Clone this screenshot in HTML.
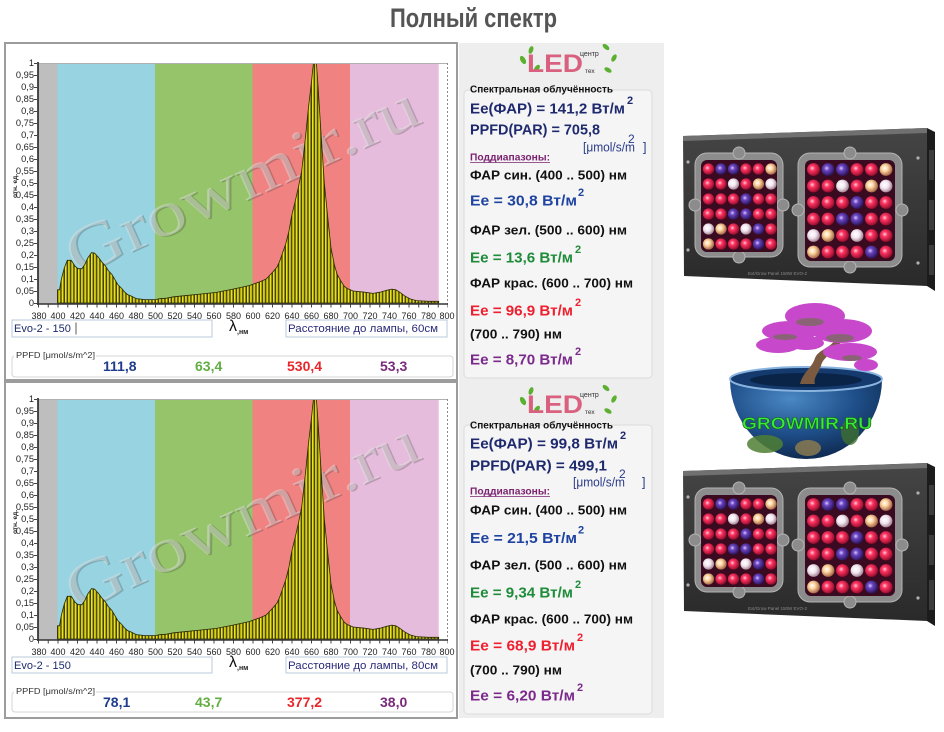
<!DOCTYPE html>
<html><head><meta charset="utf-8"><style>
html,body{margin:0;padding:0;background:#fff;}
svg{display:block;}
text{font-family:"Liberation Sans",Arial,sans-serif;}
text.wm{font-family:"Liberation Serif","Times New Roman",serif;}
</style></head><body>
<svg width="944" height="732" viewBox="0 0 944 732" xmlns="http://www.w3.org/2000/svg">
<defs>
 <pattern id="barpat" patternUnits="userSpaceOnUse" x="57.5" y="0" width="3.25" height="10">
  <rect width="3.25" height="10" fill="#8a8410"/>
  <rect x="0.8" width="1.5" height="10" fill="#ece41a"/>
  <rect width="0.7" height="10" fill="#151500"/>
 </pattern>
 <radialGradient id="gR" cx="40%" cy="40%" r="60%"><stop offset="0" stop-color="#ffd0dc"/><stop offset="0.35" stop-color="#ff3462"/><stop offset="1" stop-color="#9a0e2e"/></radialGradient>
 <radialGradient id="gP" cx="40%" cy="40%" r="60%"><stop offset="0" stop-color="#d8c8ff"/><stop offset="0.35" stop-color="#6a44c0"/><stop offset="1" stop-color="#2c1660"/></radialGradient>
 <radialGradient id="gW" cx="40%" cy="40%" r="60%"><stop offset="0" stop-color="#ffffff"/><stop offset="0.5" stop-color="#f2e6f0"/><stop offset="1" stop-color="#a88898"/></radialGradient>
 <radialGradient id="gY" cx="40%" cy="40%" r="60%"><stop offset="0" stop-color="#ffffff"/><stop offset="0.4" stop-color="#ffd6a0"/><stop offset="1" stop-color="#a86848"/></radialGradient>
 <linearGradient id="face" x1="0" y1="0" x2="0" y2="1"><stop offset="0" stop-color="#454545"/><stop offset="1" stop-color="#2a2a2a"/></linearGradient>
 <radialGradient id="earth" cx="40%" cy="25%" r="85%"><stop offset="0" stop-color="#4a88c4"/><stop offset="0.5" stop-color="#1f4f8a"/><stop offset="1" stop-color="#0a2040"/></radialGradient>

 <g id="bands">
  <rect x="38" y="63" width="19.5" height="241" fill="#bebebe"/>
  <rect x="57.5" y="63" width="97.5" height="241" fill="#97d3e1"/>
  <rect x="155" y="63" width="97.5" height="241" fill="#95c46a"/>
  <rect x="252.5" y="63" width="97.5" height="241" fill="#f08282"/>
  <rect x="350" y="63" width="88.7" height="241" fill="#e6bcdc"/>
 </g>
 <g id="bars">
  <path d="M57.5,303 L57.5,289.8 L59.5,289.8 L61.4,279 L64.3,268 L67.3,260.3 L71.2,260.3 L75.1,266.3 L78,268.7 L81.9,268.7 L84.8,264.6 L87.7,258.1 L91.6,252.6 L94.6,253.1 L98.5,257.4 L101.4,261.5 L105.3,265.8 L108.2,270.4 L112.1,274.7 L115,279.7 L118,284.8 L121.9,288.6 L124.8,292.2 L127.7,294.6 L131.6,296.3 L136.5,298.7 L145.3,299.6 L155,299.6 L159.9,298.7 L166.7,298.2 L173.5,296.8 L183.3,295.8 L199.9,294.1 L216.4,292.4 L233,289.1 L249.6,285.5 L253.5,284 L260.3,281.6 L266.2,279 L270.1,274.9 L273,271.8 L276.9,267.2 L279.3,262.2 L282.2,254 L285.7,244 L289,231 L291.7,215.6 L295,202.2 L298.3,187.8 L301.7,171 L305.2,139.8 L308.1,111 L311.7,79.8 L313.4,63.5 L316.4,63.5 L317.8,82.2 L320.8,130.2 L324.3,183 L328.4,223.8 L331,247.8 L334.4,265.1 L337.3,274.7 L340.7,280.7 L344.2,286.2 L347.4,288.6 L353.3,291 L364.6,292.2 L373,293.4 L380,292.2 L386.7,290.3 L391.7,289.1 L395.8,289.8 L399.7,292.2 L404.6,295.8 L410,298.9 L416.3,300.6 L428,301.3 L438.7,301.3 L438.7,303 Z" fill="url(#barpat)" stroke="#2a2a00" stroke-width="0.8"/>
  <line x1="38" y1="63.5" x2="447.5" y2="63.5" stroke="#b0b0b0" stroke-width="1"/>
  <line x1="447.5" y1="63" x2="447.5" y2="304" stroke="#8a8a8a" stroke-width="1" stroke-dasharray="2 2"/>
  <line x1="38" y1="62" x2="38" y2="305" stroke="#222" stroke-width="1.6"/>
  <line x1="37" y1="304" x2="448" y2="304" stroke="#333" stroke-width="1.6"/>
  <line x1="38" y1="306" x2="448" y2="306" stroke="#444" stroke-width="3" stroke-dasharray="1 8.75"/>
  <line x1="35.5" y1="63" x2="35.5" y2="305" stroke="#444" stroke-width="3" stroke-dasharray="1 11"/>
 </g>
</defs>

<rect width="944" height="732" fill="#fff"/>

<!-- title -->
<text x="390" y="27" font-size="27" font-weight="bold" fill="#555" textLength="167" lengthAdjust="spacingAndGlyphs">Полный спектр</text>

<!-- chart panels -->
<rect x="5" y="43" width="452" height="337" fill="#fff" stroke="#9c9c9c" stroke-width="2"/>
<rect x="5" y="382" width="452" height="336" fill="#fff" stroke="#9c9c9c" stroke-width="2"/>

<!-- right info panel -->
<rect x="459" y="43" width="205" height="675" fill="#eeeeee"/>
<rect x="464" y="90" width="188" height="288" rx="4" fill="#f5f5f5" stroke="#dcdcdc"/>
<rect x="464" y="425" width="188" height="289" rx="4" fill="#f5f5f5" stroke="#dcdcdc"/>

<!-- ===== TOP CHART ===== -->
<g>
 <use href="#bands"/>
 <g transform="rotate(-24 242 184)">
  <text class="wm" x="54.5" y="202.5" font-size="64" fill="#222" opacity="0.22" textLength="380" lengthAdjust="spacingAndGlyphs">Growmir.ru</text>
  <text class="wm" x="53" y="201" font-size="64" fill="#e2e2e2" opacity="0.45" textLength="380" lengthAdjust="spacingAndGlyphs">Growmir.ru</text>
 </g>
 <use href="#bars"/>
 <g font-size="9.3" fill="#222" text-anchor="end">
  <text x="34" y="66">1</text><text x="34" y="78">0,95</text><text x="34" y="90">0,9</text><text x="34" y="102">0,85</text><text x="34" y="114">0,8</text><text x="34" y="126">0,75</text><text x="34" y="138">0,7</text><text x="34" y="150">0,65</text><text x="34" y="162">0,6</text><text x="34" y="174">0,55</text><text x="34" y="186">0,5</text><text x="34" y="198">0,45</text><text x="34" y="210">0,4</text><text x="34" y="222">0,35</text><text x="34" y="234">0,3</text><text x="34" y="246">0,25</text><text x="34" y="258">0,2</text><text x="34" y="270">0,15</text><text x="34" y="282">0,1</text><text x="34" y="294">0,05</text><text x="34" y="306">0</text>
 </g>
 <text transform="translate(17 198) rotate(-90)" font-size="6.5" font-weight="bold" fill="#222">отн. ед.</text>
 <g font-size="9" fill="#222" text-anchor="middle">
  <text x="39" y="319">380</text><text x="58" y="319">400</text><text x="77.5" y="319">420</text><text x="97" y="319">440</text><text x="116.5" y="319">460</text><text x="136" y="319">480</text><text x="155.5" y="319">500</text><text x="175" y="319">520</text><text x="194.5" y="319">540</text><text x="214" y="319">560</text><text x="233.5" y="319">580</text><text x="253" y="319">600</text><text x="272.5" y="319">620</text><text x="292" y="319">640</text><text x="311.5" y="319">660</text><text x="331" y="319">680</text><text x="350.5" y="319">700</text><text x="370" y="319">720</text><text x="389.5" y="319">740</text><text x="409" y="319">760</text><text x="428.5" y="319">780</text><text x="447" y="319">800</text>
 </g>
 <rect x="12" y="320" width="200" height="17" fill="#fff" stroke="#b8c8dc"/>
 <text x="14" y="332" font-size="11" fill="#1d2b6b">Evo-2 - 150</text>
 <line x1="76" y1="322.5" x2="76" y2="334.5" stroke="#333" stroke-width="0.8"/>
 <text x="229" y="331" font-size="16" fill="#111">λ</text>
 <text x="237" y="334" font-size="7" font-weight="bold" fill="#222">,нм</text>
 <rect x="286" y="320" width="161" height="17" fill="#fff" stroke="#b8c8dc"/>
 <text x="288" y="332" font-size="11" fill="#2a2a7a" textLength="150" lengthAdjust="spacingAndGlyphs">Расстояние до лампы,  60см</text>
 <rect x="12" y="356" width="441" height="21" rx="3" fill="#fff" stroke="#d4d4d4"/>
 <rect x="14" y="350" width="82" height="9" fill="#fff"/>
 <text x="16" y="358" font-size="8.5" fill="#333" textLength="79" lengthAdjust="spacingAndGlyphs">PPFD [μmol/s/m^2]</text>
 <g font-size="14" font-weight="bold">
  <text x="103" y="371" fill="#1f3c8c">111,8</text>
  <text x="195" y="371" fill="#62ae44">63,4</text>
  <text x="287" y="371" fill="#e8262c">530,4</text>
  <text x="380" y="371" fill="#7a2a7a">53,3</text>
 </g>
</g>

<!-- ===== BOTTOM CHART ===== -->
<g transform="translate(0 336)">
 <use href="#bands"/>
 <g transform="rotate(-24 242 184)">
  <text class="wm" x="54.5" y="202.5" font-size="64" fill="#222" opacity="0.22" textLength="380" lengthAdjust="spacingAndGlyphs">Growmir.ru</text>
  <text class="wm" x="53" y="201" font-size="64" fill="#e2e2e2" opacity="0.45" textLength="380" lengthAdjust="spacingAndGlyphs">Growmir.ru</text>
 </g>
 <use href="#bars"/>
 <g font-size="9.3" fill="#222" text-anchor="end">
  <text x="34" y="66">1</text><text x="34" y="78">0,95</text><text x="34" y="90">0,9</text><text x="34" y="102">0,85</text><text x="34" y="114">0,8</text><text x="34" y="126">0,75</text><text x="34" y="138">0,7</text><text x="34" y="150">0,65</text><text x="34" y="162">0,6</text><text x="34" y="174">0,55</text><text x="34" y="186">0,5</text><text x="34" y="198">0,45</text><text x="34" y="210">0,4</text><text x="34" y="222">0,35</text><text x="34" y="234">0,3</text><text x="34" y="246">0,25</text><text x="34" y="258">0,2</text><text x="34" y="270">0,15</text><text x="34" y="282">0,1</text><text x="34" y="294">0,05</text><text x="34" y="306">0</text>
 </g>
 <text transform="translate(17 198) rotate(-90)" font-size="6.5" font-weight="bold" fill="#222">отн. ед.</text>
 <g font-size="9" fill="#222" text-anchor="middle">
  <text x="39" y="319">380</text><text x="58" y="319">400</text><text x="77.5" y="319">420</text><text x="97" y="319">440</text><text x="116.5" y="319">460</text><text x="136" y="319">480</text><text x="155.5" y="319">500</text><text x="175" y="319">520</text><text x="194.5" y="319">540</text><text x="214" y="319">560</text><text x="233.5" y="319">580</text><text x="253" y="319">600</text><text x="272.5" y="319">620</text><text x="292" y="319">640</text><text x="311.5" y="319">660</text><text x="331" y="319">680</text><text x="350.5" y="319">700</text><text x="370" y="319">720</text><text x="389.5" y="319">740</text><text x="409" y="319">760</text><text x="428.5" y="319">780</text><text x="447" y="319">800</text>
 </g>
 <rect x="12" y="321" width="200" height="16" fill="#fff" stroke="#b8c8dc"/>
 <text x="14" y="333" font-size="11" fill="#1d2b6b">Evo-2 - 150</text>
 <text x="229" y="331" font-size="16" fill="#111">λ</text>
 <text x="237" y="334" font-size="7" font-weight="bold" fill="#222">,нм</text>
 <rect x="286" y="321" width="161" height="16" fill="#fff" stroke="#b8c8dc"/>
 <text x="288" y="333" font-size="11" fill="#2a2a7a" textLength="150" lengthAdjust="spacingAndGlyphs">Расстояние до лампы,  80см</text>
 <rect x="12" y="356" width="441" height="20" rx="3" fill="#fff" stroke="#d4d4d4"/>
 <rect x="14" y="350" width="82" height="9" fill="#fff"/>
 <text x="16" y="358" font-size="8.5" fill="#333" textLength="79" lengthAdjust="spacingAndGlyphs">PPFD [μmol/s/m^2]</text>
 <g font-size="14" font-weight="bold">
  <text x="103" y="371" fill="#1f3c8c">78,1</text>
  <text x="195" y="371" fill="#62ae44">43,7</text>
  <text x="287" y="371" fill="#e8262c">377,2</text>
  <text x="380" y="371" fill="#7a2a7a">38,0</text>
 </g>
</g>

<!-- ===== LOGOS ===== -->
<g>
 <g fill="#5cb030">
  <ellipse cx="523" cy="60" rx="2.5" ry="4.5" transform="rotate(-30 523 60)"/>
  <ellipse cx="531" cy="50" rx="2.2" ry="4" transform="rotate(20 531 50)"/>
  <ellipse cx="537" cy="68" rx="2.2" ry="3.8" transform="rotate(40 537 68)"/>
  <ellipse cx="606" cy="47" rx="2.2" ry="4" transform="rotate(-50 606 47)"/>
  <ellipse cx="614" cy="58" rx="2.2" ry="4" transform="rotate(30 614 58)"/>
  <ellipse cx="608" cy="70" rx="2.2" ry="4" transform="rotate(-60 608 70)"/>
 </g>
 <text x="527" y="72" font-size="25" font-weight="bold" fill="#d9607e" textLength="56" lengthAdjust="spacingAndGlyphs">LED</text>
 <text x="580" y="56" font-size="7" fill="#333">центр</text>
 <text x="585" y="73" font-size="6.5" fill="#333">тех</text>
</g>
<g transform="translate(0 341)">
 <g fill="#5cb030">
  <ellipse cx="523" cy="60" rx="2.5" ry="4.5" transform="rotate(-30 523 60)"/>
  <ellipse cx="531" cy="50" rx="2.2" ry="4" transform="rotate(20 531 50)"/>
  <ellipse cx="537" cy="68" rx="2.2" ry="3.8" transform="rotate(40 537 68)"/>
  <ellipse cx="606" cy="47" rx="2.2" ry="4" transform="rotate(-50 606 47)"/>
  <ellipse cx="614" cy="58" rx="2.2" ry="4" transform="rotate(30 614 58)"/>
  <ellipse cx="608" cy="70" rx="2.2" ry="4" transform="rotate(-60 608 70)"/>
 </g>
 <text x="527" y="72" font-size="25" font-weight="bold" fill="#d9607e" textLength="56" lengthAdjust="spacingAndGlyphs">LED</text>
 <text x="580" y="56" font-size="7" fill="#333">центр</text>
 <text x="585" y="73" font-size="6.5" fill="#333">тех</text>
</g>

<!-- ===== TOP INFO TEXT ===== -->
<g font-weight="bold">
 <text x="470" y="92.5" font-size="10" fill="#111" textLength="143" lengthAdjust="spacingAndGlyphs">Спектральная облучённость</text>
 <text x="470" y="113.5" font-size="15" fill="#1f2a6e" textLength="155" lengthAdjust="spacingAndGlyphs">Ee(ФАР) = 141,2 Вт/м</text>
 <text x="627" y="104" font-size="11" fill="#1f2a6e">2</text>
 <text x="470" y="134.5" font-size="15" fill="#1f2a6e" textLength="130" lengthAdjust="spacingAndGlyphs">PPFD(PAR) = 705,8</text>
 <text x="470" y="160.5" font-size="10" fill="#7b2370" textLength="80" lengthAdjust="spacingAndGlyphs">Поддиапазоны:</text>
 <line x1="470" y1="162.5" x2="550" y2="162.5" stroke="#7b2370" stroke-width="0.8"/>
 <text x="470" y="179.5" font-size="13" fill="#111" textLength="157" lengthAdjust="spacingAndGlyphs">ФАР син. (400 .. 500) нм</text>
 <text x="470" y="205.5" font-size="15" fill="#1f43a0" textLength="107" lengthAdjust="spacingAndGlyphs">Ee = 30,8 Вт/м</text>
 <text x="578" y="196" font-size="11" fill="#1f43a0">2</text>
 <text x="470" y="234.5" font-size="13" fill="#111" textLength="157" lengthAdjust="spacingAndGlyphs">ФАР зел. (500 .. 600) нм</text>
 <text x="470" y="262.5" font-size="15" fill="#1f8c3a" textLength="103" lengthAdjust="spacingAndGlyphs">Ee = 13,6 Вт/м</text>
 <text x="575" y="253" font-size="11" fill="#1f8c3a">2</text>
 <text x="470" y="287.5" font-size="13" fill="#111" textLength="163" lengthAdjust="spacingAndGlyphs">ФАР крас. (600 .. 700) нм</text>
 <text x="470" y="315.5" font-size="15" fill="#ee2030" textLength="103" lengthAdjust="spacingAndGlyphs">Ee = 96,9 Вт/м</text>
 <text x="575" y="306" font-size="11" fill="#ee2030">2</text>
 <text x="470" y="338.5" font-size="13" fill="#111" textLength="92" lengthAdjust="spacingAndGlyphs">(700 .. 790) нм</text>
 <text x="470" y="364.5" font-size="15" fill="#7b2a8c" textLength="103" lengthAdjust="spacingAndGlyphs">Ee = 8,70 Вт/м</text>
 <text x="575" y="355" font-size="11" fill="#7b2a8c">2</text>
</g>
<text x="583" y="151.5" font-size="12.5" fill="#2a3a8a" textLength="52" lengthAdjust="spacingAndGlyphs">[μmol/s/m</text>
<text x="628" y="143" font-size="12" fill="#2a3a8a">2</text>
<text x="643" y="151.5" font-size="12.5" fill="#2a3a8a">]</text>

<!-- ===== BOTTOM INFO TEXT ===== -->
<g font-weight="bold">
 <text x="470" y="428.5" font-size="10" fill="#111" textLength="143" lengthAdjust="spacingAndGlyphs">Спектральная облучённость</text>
 <text x="470" y="448.5" font-size="15" fill="#1f2a6e" textLength="148" lengthAdjust="spacingAndGlyphs">Ee(ФАР) = 99,8 Вт/м</text>
 <text x="620" y="439" font-size="11" fill="#1f2a6e">2</text>
 <text x="470" y="470.5" font-size="15" fill="#1f2a6e" textLength="137" lengthAdjust="spacingAndGlyphs">PPFD(PAR) = 499,1</text>
 <text x="470" y="494.5" font-size="10" fill="#7b2370" textLength="80" lengthAdjust="spacingAndGlyphs">Поддиапазоны:</text>
 <line x1="470" y1="496.5" x2="550" y2="496.5" stroke="#7b2370" stroke-width="0.8"/>
 <text x="470" y="514.5" font-size="13" fill="#111" textLength="157" lengthAdjust="spacingAndGlyphs">ФАР син. (400 .. 500) нм</text>
 <text x="470" y="543" font-size="15" fill="#1f43a0" textLength="107" lengthAdjust="spacingAndGlyphs">Ee = 21,5 Вт/м</text>
 <text x="578" y="533.5" font-size="11" fill="#1f43a0">2</text>
 <text x="470" y="569.5" font-size="13" fill="#111" textLength="157" lengthAdjust="spacingAndGlyphs">ФАР зел. (500 .. 600) нм</text>
 <text x="470" y="597.5" font-size="15" fill="#1f8c3a" textLength="103" lengthAdjust="spacingAndGlyphs">Ee = 9,34 Вт/м</text>
 <text x="575" y="588" font-size="11" fill="#1f8c3a">2</text>
 <text x="470" y="623.5" font-size="13" fill="#111" textLength="163" lengthAdjust="spacingAndGlyphs">ФАР крас. (600 .. 700) нм</text>
 <text x="470" y="650.5" font-size="15" fill="#ee2030" textLength="105" lengthAdjust="spacingAndGlyphs">Ee = 68,9 Вт/м</text>
 <text x="577" y="641" font-size="11" fill="#ee2030">2</text>
 <text x="470" y="674.5" font-size="13" fill="#111" textLength="92" lengthAdjust="spacingAndGlyphs">(700 .. 790) нм</text>
 <text x="470" y="700.5" font-size="15" fill="#7b2a8c" textLength="105" lengthAdjust="spacingAndGlyphs">Ee = 6,20 Вт/м</text>
 <text x="577" y="691" font-size="11" fill="#7b2a8c">2</text>
</g>
<text x="573" y="486.5" font-size="12.5" fill="#2a3a8a" textLength="52" lengthAdjust="spacingAndGlyphs">[μmol/s/m</text>
<text x="619" y="478" font-size="12" fill="#2a3a8a">2</text>
<text x="642" y="486.5" font-size="12.5" fill="#2a3a8a">]</text>

<!-- ===== LAMP ===== -->
<g id="lamp">
 <polygon points="683,136 927,128 927,286 684,276" fill="url(#face)"/>
 <polygon points="683,136 927,128 927,133 683,141" fill="#707070"/>
 <polygon points="927,128 935,132 935,291 927,286" fill="#1c1c1c"/>
 <rect x="929" y="150" width="5" height="30" fill="#3c3c3c"/>
 <rect x="929" y="200" width="5" height="30" fill="#3c3c3c"/>
 <rect x="929" y="245" width="5" height="30" fill="#3c3c3c"/>
 <g fill="#b0b0b0">
  <circle cx="688" cy="162" r="1.6"/><circle cx="688" cy="250" r="1.6"/>
  <circle cx="918" cy="158" r="1.6"/><circle cx="918" cy="263" r="1.6"/>
 </g>
 <!-- left module -->
 <g fill="#8c8c8c" stroke="#b4b4b4" stroke-width="1">
  <rect x="695" y="153" width="88" height="104" rx="12"/>
  <circle cx="695" cy="205" r="6"/><circle cx="783" cy="205" r="6"/>
  <circle cx="739" cy="153" r="6"/><circle cx="739" cy="257" r="6"/>
 </g>
 <rect x="701" y="160" width="76" height="92" rx="6" fill="#3a0a20"/>
 <g>
  <circle cx="708.5" cy="169" r="5.6" fill="url(#gR)"/><circle cx="721" cy="169" r="5.6" fill="url(#gP)"/><circle cx="733.5" cy="169" r="5.6" fill="url(#gP)"/><circle cx="746" cy="169" r="5.6" fill="url(#gR)"/><circle cx="758.5" cy="169" r="5.6" fill="url(#gR)"/><circle cx="771" cy="169" r="5.6" fill="url(#gY)"/>
  <circle cx="708.5" cy="184" r="5.6" fill="url(#gR)"/><circle cx="721" cy="184" r="5.6" fill="url(#gR)"/><circle cx="733.5" cy="184" r="5.6" fill="url(#gW)"/><circle cx="746" cy="184" r="5.6" fill="url(#gR)"/><circle cx="758.5" cy="184" r="5.6" fill="url(#gY)"/><circle cx="771" cy="184" r="5.6" fill="url(#gW)"/>
  <circle cx="708.5" cy="199" r="5.6" fill="url(#gR)"/><circle cx="721" cy="199" r="5.6" fill="url(#gR)"/><circle cx="733.5" cy="199" r="5.6" fill="url(#gR)"/><circle cx="746" cy="199" r="5.6" fill="url(#gP)"/><circle cx="758.5" cy="199" r="5.6" fill="url(#gR)"/><circle cx="771" cy="199" r="5.6" fill="url(#gR)"/>
  <circle cx="708.5" cy="214" r="5.6" fill="url(#gR)"/><circle cx="721" cy="214" r="5.6" fill="url(#gR)"/><circle cx="733.5" cy="214" r="5.6" fill="url(#gP)"/><circle cx="746" cy="214" r="5.6" fill="url(#gP)"/><circle cx="758.5" cy="214" r="5.6" fill="url(#gR)"/><circle cx="771" cy="214" r="5.6" fill="url(#gR)"/>
  <circle cx="708.5" cy="229" r="5.6" fill="url(#gW)"/><circle cx="721" cy="229" r="5.6" fill="url(#gY)"/><circle cx="733.5" cy="229" r="5.6" fill="url(#gR)"/><circle cx="746" cy="229" r="5.6" fill="url(#gW)"/><circle cx="758.5" cy="229" r="5.6" fill="url(#gP)"/><circle cx="771" cy="229" r="5.6" fill="url(#gR)"/>
  <circle cx="708.5" cy="244" r="5.6" fill="url(#gY)"/><circle cx="721" cy="244" r="5.6" fill="url(#gR)"/><circle cx="733.5" cy="244" r="5.6" fill="url(#gR)"/><circle cx="746" cy="244" r="5.6" fill="url(#gR)"/><circle cx="758.5" cy="244" r="5.6" fill="url(#gP)"/><circle cx="771" cy="244" r="5.6" fill="url(#gR)"/>
 </g>
 <!-- right module -->
 <g fill="#8c8c8c" stroke="#b4b4b4" stroke-width="1">
  <rect x="798" y="153" width="104" height="114" rx="12"/>
  <circle cx="798" cy="210" r="6"/><circle cx="902" cy="210" r="6"/>
  <circle cx="850" cy="153" r="6"/><circle cx="850" cy="267" r="6"/>
 </g>
 <rect x="805" y="160" width="90" height="101" rx="6" fill="#3a0a20"/>
 <g>
  <circle cx="813.5" cy="169.5" r="6.4" fill="url(#gR)"/><circle cx="828" cy="169.5" r="6.4" fill="url(#gP)"/><circle cx="842.5" cy="169.5" r="6.4" fill="url(#gP)"/><circle cx="857" cy="169.5" r="6.4" fill="url(#gR)"/><circle cx="871.5" cy="169.5" r="6.4" fill="url(#gR)"/><circle cx="886" cy="169.5" r="6.4" fill="url(#gY)"/>
  <circle cx="813.5" cy="186" r="6.4" fill="url(#gR)"/><circle cx="828" cy="186" r="6.4" fill="url(#gR)"/><circle cx="842.5" cy="186" r="6.4" fill="url(#gW)"/><circle cx="857" cy="186" r="6.4" fill="url(#gR)"/><circle cx="871.5" cy="186" r="6.4" fill="url(#gY)"/><circle cx="886" cy="186" r="6.4" fill="url(#gW)"/>
  <circle cx="813.5" cy="202.5" r="6.4" fill="url(#gR)"/><circle cx="828" cy="202.5" r="6.4" fill="url(#gR)"/><circle cx="842.5" cy="202.5" r="6.4" fill="url(#gR)"/><circle cx="857" cy="202.5" r="6.4" fill="url(#gP)"/><circle cx="871.5" cy="202.5" r="6.4" fill="url(#gR)"/><circle cx="886" cy="202.5" r="6.4" fill="url(#gR)"/>
  <circle cx="813.5" cy="219" r="6.4" fill="url(#gR)"/><circle cx="828" cy="219" r="6.4" fill="url(#gR)"/><circle cx="842.5" cy="219" r="6.4" fill="url(#gP)"/><circle cx="857" cy="219" r="6.4" fill="url(#gP)"/><circle cx="871.5" cy="219" r="6.4" fill="url(#gR)"/><circle cx="886" cy="219" r="6.4" fill="url(#gR)"/>
  <circle cx="813.5" cy="235.5" r="6.4" fill="url(#gW)"/><circle cx="828" cy="235.5" r="6.4" fill="url(#gY)"/><circle cx="842.5" cy="235.5" r="6.4" fill="url(#gR)"/><circle cx="857" cy="235.5" r="6.4" fill="url(#gW)"/><circle cx="871.5" cy="235.5" r="6.4" fill="url(#gR)"/><circle cx="886" cy="235.5" r="6.4" fill="url(#gR)"/>
  <circle cx="813.5" cy="252" r="6.4" fill="url(#gY)"/><circle cx="828" cy="252" r="6.4" fill="url(#gR)"/><circle cx="842.5" cy="252" r="6.4" fill="url(#gR)"/><circle cx="857" cy="252" r="6.4" fill="url(#gR)"/><circle cx="871.5" cy="252" r="6.4" fill="url(#gP)"/><circle cx="886" cy="252" r="6.4" fill="url(#gR)"/>
 </g>
</g>
<use href="#lamp" transform="translate(0 335)"/>
<text x="748" y="275" font-size="4.5" fill="#8a8a8a">Ext/Grow Panel 150W EVO-2</text>
<text x="748" y="610" font-size="4.5" fill="#8a8a8a">Ext/Grow Panel 150W EVO-2</text>

<!-- ===== GLOBE ===== -->
<g>
 <path d="M730,379 A76,80 0 0 0 882,379 Z" fill="url(#earth)"/>
 <ellipse cx="765" cy="444" rx="18" ry="9" fill="#4f7f34" opacity="0.85"/>
 <ellipse cx="808" cy="448" rx="13" ry="8" fill="#8a7a50" opacity="0.85"/>
 <ellipse cx="850" cy="432" rx="9" ry="13" fill="#3f6f30" opacity="0.8"/>
 <ellipse cx="806" cy="379" rx="76" ry="12" fill="#143a6e" stroke="#8ab4e0" stroke-width="2"/>
 <ellipse cx="806" cy="380" rx="56" ry="7" fill="#0a2448"/>
 <path d="M800,384 C803,372 812,368 815,358 C818,350 830,348 835,340 L841,342 C836,352 823,356 821,366 C818,374 813,378 815,384 Z" fill="#7a5a40"/>
 <g fill="#c848cc">
  <ellipse cx="815" cy="316" rx="30" ry="13"/>
  <ellipse cx="790" cy="331" rx="28" ry="10"/>
  <ellipse cx="842" cy="331" rx="30" ry="12"/>
  <ellipse cx="778" cy="345" rx="22" ry="8"/>
  <ellipse cx="850" cy="352" rx="27" ry="9"/>
  <ellipse cx="806" cy="343" rx="18" ry="7"/>
  <ellipse cx="866" cy="365" rx="12" ry="6"/>
 </g>
 <g fill="#5a7a30" opacity="0.55">
  <ellipse cx="810" cy="322" rx="14" ry="4"/>
  <ellipse cx="840" cy="338" rx="14" ry="4"/>
  <ellipse cx="785" cy="337" rx="12" ry="3"/>
  <ellipse cx="852" cy="358" rx="10" ry="3"/>
 </g>
 <text x="742" y="429" font-size="17" font-weight="bold" fill="#35ee35" stroke="#1a5a1a" stroke-width="0.6" textLength="130" lengthAdjust="spacingAndGlyphs">GROWMIR.RU</text>
</g>
</svg>
</body></html>
